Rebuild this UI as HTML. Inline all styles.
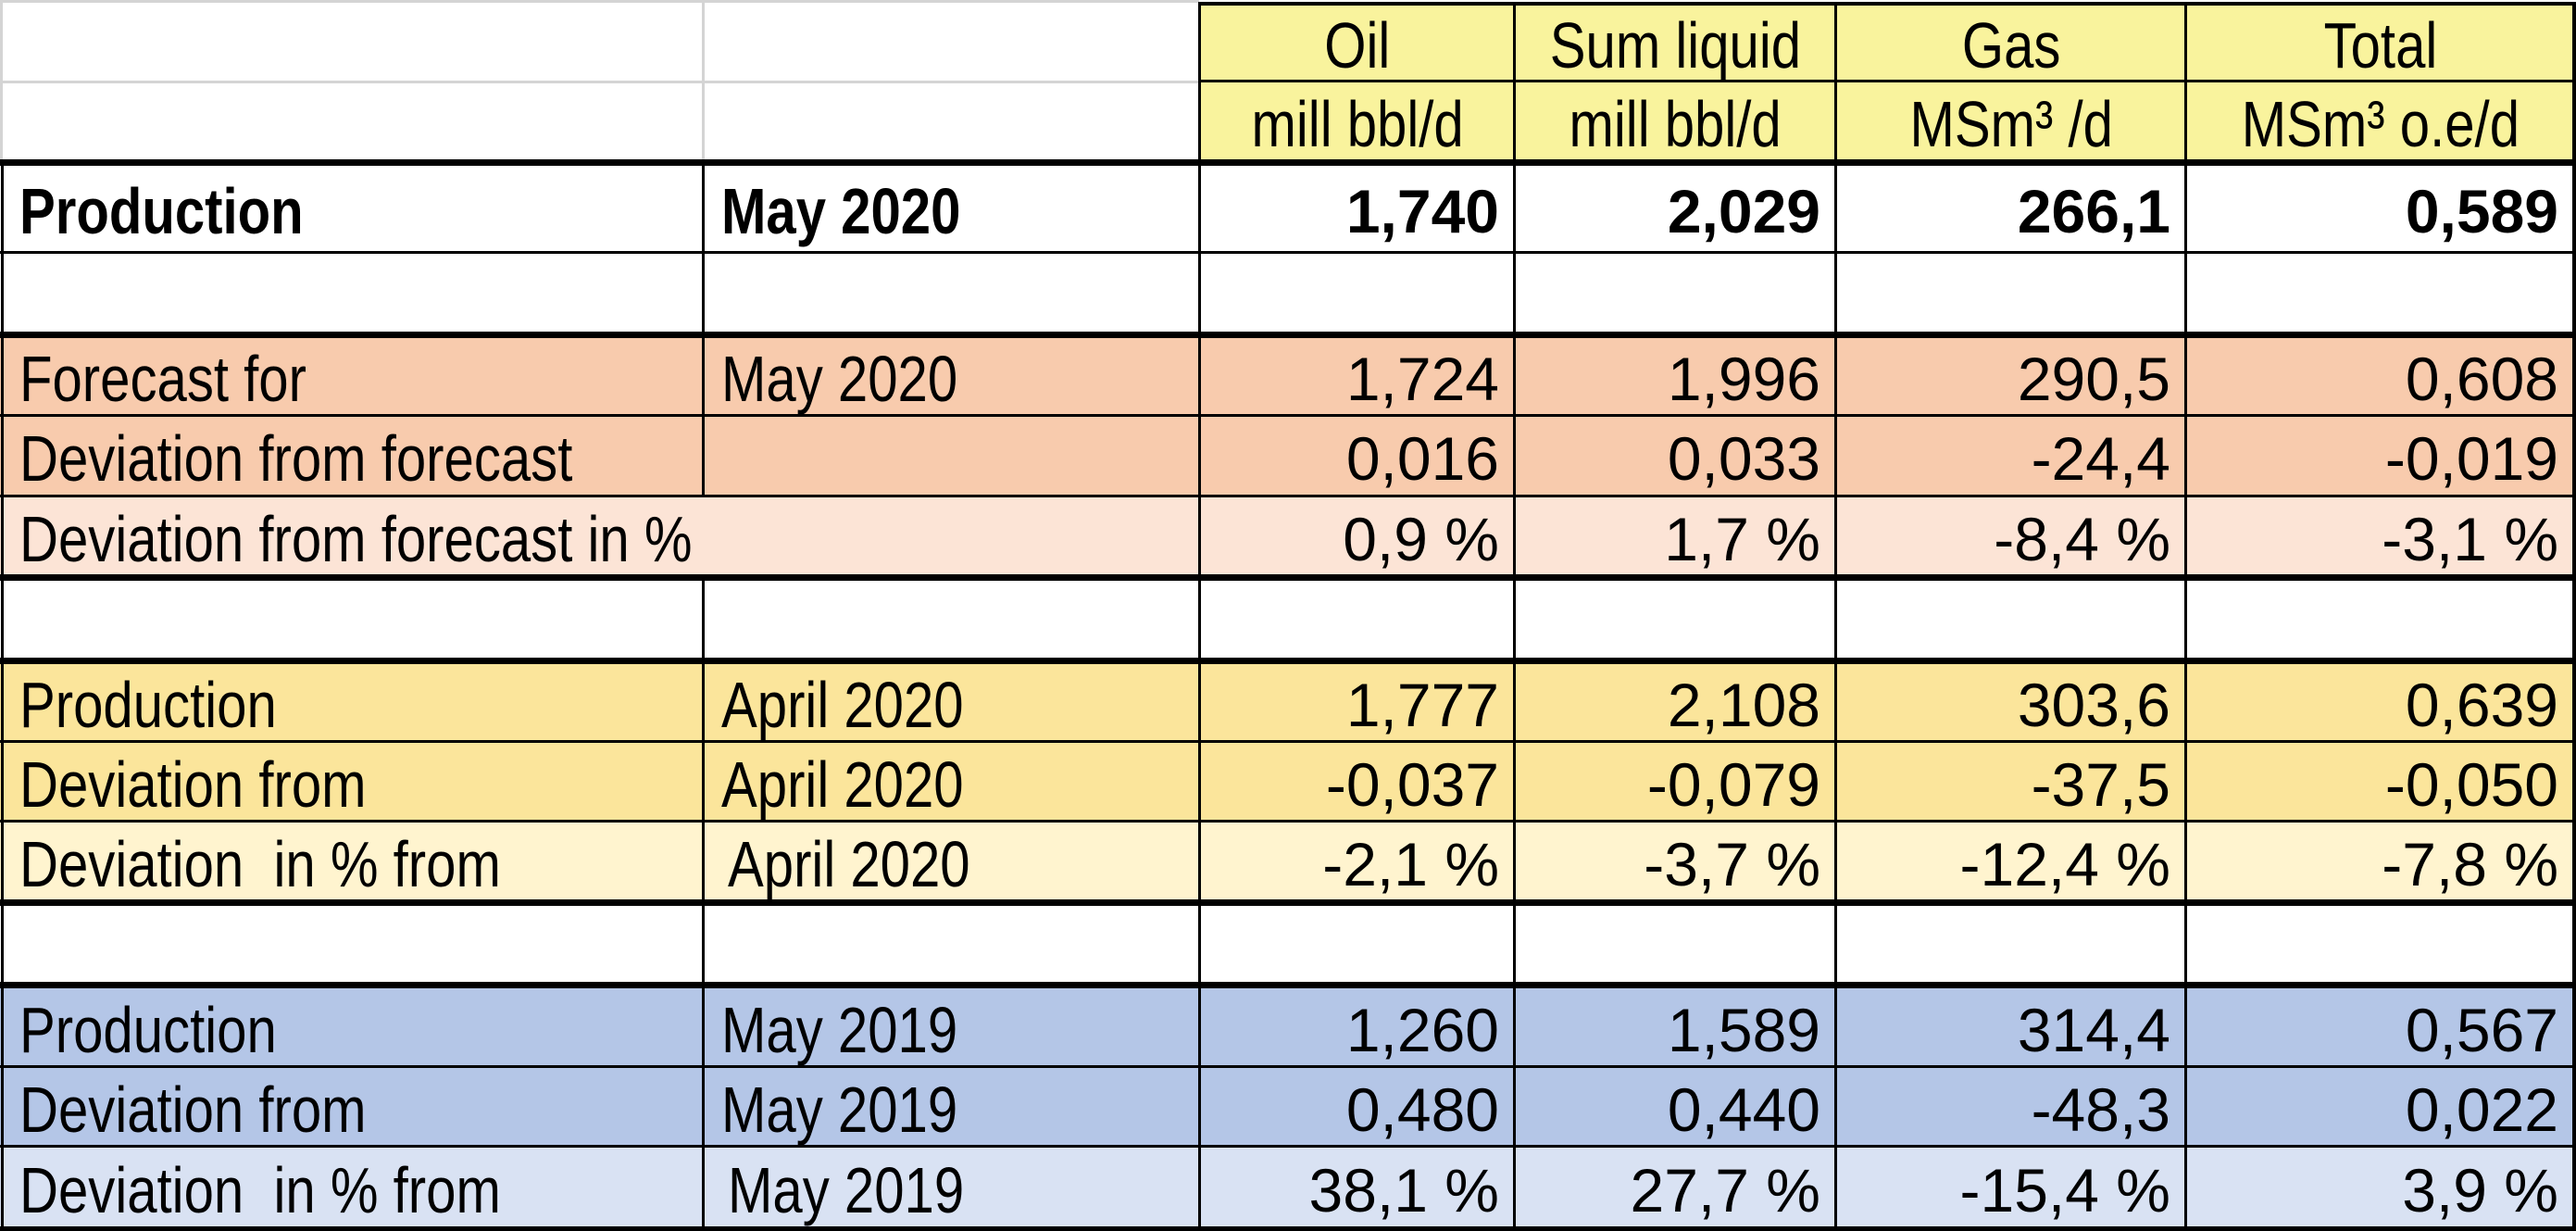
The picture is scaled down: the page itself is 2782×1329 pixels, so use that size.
<!DOCTYPE html>
<html><head><meta charset="utf-8"><style>
body{margin:0;width:2782px;height:1329px;background:#fff;position:relative;overflow:hidden;font-family:"Liberation Sans",sans-serif;color:#000}
.bg{position:absolute}
.t{position:absolute;display:flex;align-items:center;font-size:66px;white-space:nowrap;box-sizing:border-box;padding-top:6px}
.l{justify-content:flex-start;padding-left:18px}
.l span{display:inline-block;font-size:70px;transform:scaleX(.83);transform-origin:left center}
.r{justify-content:flex-end;padding-right:16px}
.cn{justify-content:center}
.cn span{display:inline-block;font-size:70px;transform:scaleX(.83);transform-origin:center}
.b{font-weight:bold}
.h{position:absolute;background:#000}
.g{position:absolute;background:#d4d4d4}
</style></head><body>
<div class="bg" style="left:1295px;top:2px;width:1486px;height:174px;background:#F9F39D"></div>
<div class="bg" style="left:0;top:361px;width:2782px;height:174px;background:#F8CBAD"></div>
<div class="bg" style="left:0;top:535px;width:2782px;height:88px;background:#FCE4D6"></div>
<div class="bg" style="left:0;top:713px;width:2782px;height:173px;background:#FBE59B"></div>
<div class="bg" style="left:0;top:886px;width:2782px;height:88px;background:#FFF4CF"></div>
<div class="bg" style="left:0;top:1063px;width:2782px;height:174px;background:#B4C6E7"></div>
<div class="bg" style="left:0;top:1237px;width:2782px;height:92px;background:#D9E2F3"></div>

<div class="g" style="left:0;top:0;width:1295px;height:3px"></div>
<div class="g" style="left:0;top:87px;width:1295px;height:3px"></div>
<div class="g" style="left:0;top:0;width:3px;height:176px"></div>
<div class="g" style="left:758px;top:0;width:3px;height:176px"></div>

<div class="h" style="left:1295px;top:2px;width:1487px;height:4px"></div>
<div class="h" style="left:1295px;top:86px;width:1487px;height:3px"></div>
<div class="h" style="left:0;top:172px;width:2782px;height:7px"></div>
<div class="h" style="left:0;top:271px;width:2782px;height:3px"></div>
<div class="h" style="left:0;top:358px;width:2782px;height:7px"></div>
<div class="h" style="left:0;top:447px;width:2782px;height:3px"></div>
<div class="h" style="left:0;top:534px;width:2782px;height:3px"></div>
<div class="h" style="left:0;top:620px;width:2782px;height:7px"></div>
<div class="h" style="left:0;top:710px;width:2782px;height:7px"></div>
<div class="h" style="left:0;top:799px;width:2782px;height:3px"></div>
<div class="h" style="left:0;top:885px;width:2782px;height:3px"></div>
<div class="h" style="left:0;top:971px;width:2782px;height:7px"></div>
<div class="h" style="left:0;top:1060px;width:2782px;height:7px"></div>
<div class="h" style="left:0;top:1150px;width:2782px;height:3px"></div>
<div class="h" style="left:0;top:1236px;width:2782px;height:3px"></div>
<div class="h" style="left:0;top:1324px;width:2782px;height:5px"></div>

<div class="h" style="left:1px;top:172px;width:3px;height:1157px"></div>
<div class="h" style="left:758px;top:172px;width:3px;height:363px"></div>
<div class="h" style="left:758px;top:620px;width:3px;height:709px"></div>
<div class="h" style="left:1294px;top:2px;width:3px;height:1327px"></div>
<div class="h" style="left:1634px;top:2px;width:3px;height:1327px"></div>
<div class="h" style="left:1981px;top:2px;width:3px;height:1327px"></div>
<div class="h" style="left:2359px;top:2px;width:3px;height:1327px"></div>
<div class="h" style="left:2778px;top:2px;width:4px;height:1327px"></div>

<div class="t cn" style="left:1297px;top:4px;width:338px;height:84px"><span>Oil</span></div>
<div class="t cn" style="left:1637px;top:4px;width:345px;height:84px"><span>Sum liquid</span></div>
<div class="t cn" style="left:1984px;top:4px;width:376px;height:84px"><span>Gas</span></div>
<div class="t cn" style="left:2362px;top:4px;width:417px;height:84px"><span>Total</span></div>
<div class="t cn" style="left:1297px;top:89px;width:338px;height:84px"><span>mill bbl/d</span></div>
<div class="t cn" style="left:1637px;top:89px;width:345px;height:84px"><span>mill bbl/d</span></div>
<div class="t cn" style="left:1984px;top:89px;width:376px;height:84px"><span>MSm³ /d</span></div>
<div class="t cn" style="left:2362px;top:89px;width:417px;height:84px"><span>MSm³ o.e/d</span></div>

<div class="t l b" style="left:3px;top:179px;width:755px;height:92px"><span>Production</span></div>
<div class="t l b" style="left:761px;top:179px;width:533px;height:92px"><span>May 2020</span></div>
<div class="t r b" style="left:1297px;top:179px;width:338px;height:92px">1,740</div>
<div class="t r b" style="left:1637px;top:179px;width:345px;height:92px">2,029</div>
<div class="t r b" style="left:1984px;top:179px;width:376px;height:92px">266,1</div>
<div class="t r b" style="left:2362px;top:179px;width:417px;height:92px">0,589</div>

<div class="t l" style="left:3px;top:365px;width:755px;height:82px"><span>Forecast for</span></div>
<div class="t l" style="left:761px;top:365px;width:533px;height:82px"><span>May 2020</span></div>
<div class="t r" style="left:1297px;top:365px;width:338px;height:82px">1,724</div>
<div class="t r" style="left:1637px;top:365px;width:345px;height:82px">1,996</div>
<div class="t r" style="left:1984px;top:365px;width:376px;height:82px">290,5</div>
<div class="t r" style="left:2362px;top:365px;width:417px;height:82px">0,608</div>

<div class="t l" style="left:3px;top:450px;width:755px;height:84px"><span>Deviation from forecast</span></div>
<div class="t r" style="left:1297px;top:450px;width:338px;height:84px">0,016</div>
<div class="t r" style="left:1637px;top:450px;width:345px;height:84px">0,033</div>
<div class="t r" style="left:1984px;top:450px;width:376px;height:84px">-24,4</div>
<div class="t r" style="left:2362px;top:450px;width:417px;height:84px">-0,019</div>

<div class="t l" style="left:3px;top:537px;width:1290px;height:83px"><span>Deviation from forecast in %</span></div>
<div class="t r" style="left:1297px;top:537px;width:338px;height:83px">0,9 %</div>
<div class="t r" style="left:1637px;top:537px;width:345px;height:83px">1,7 %</div>
<div class="t r" style="left:1984px;top:537px;width:376px;height:83px">-8,4 %</div>
<div class="t r" style="left:2362px;top:537px;width:417px;height:83px">-3,1 %</div>

<div class="t l" style="left:3px;top:717px;width:755px;height:82px"><span>Production</span></div>
<div class="t l" style="left:761px;top:717px;width:533px;height:82px"><span>April 2020</span></div>
<div class="t r" style="left:1297px;top:717px;width:338px;height:82px">1,777</div>
<div class="t r" style="left:1637px;top:717px;width:345px;height:82px">2,108</div>
<div class="t r" style="left:1984px;top:717px;width:376px;height:82px">303,6</div>
<div class="t r" style="left:2362px;top:717px;width:417px;height:82px">0,639</div>

<div class="t l" style="left:3px;top:802px;width:755px;height:83px"><span>Deviation from</span></div>
<div class="t l" style="left:761px;top:802px;width:533px;height:83px"><span>April 2020</span></div>
<div class="t r" style="left:1297px;top:802px;width:338px;height:83px">-0,037</div>
<div class="t r" style="left:1637px;top:802px;width:345px;height:83px">-0,079</div>
<div class="t r" style="left:1984px;top:802px;width:376px;height:83px">-37,5</div>
<div class="t r" style="left:2362px;top:802px;width:417px;height:83px">-0,050</div>

<div class="t l" style="left:3px;top:888px;width:755px;height:83px"><span>Deviation&nbsp; in % from</span></div>
<div class="t l" style="left:768px;top:888px;width:526px;height:83px"><span>April 2020</span></div>
<div class="t r" style="left:1297px;top:888px;width:338px;height:83px">-2,1 %</div>
<div class="t r" style="left:1637px;top:888px;width:345px;height:83px">-3,7 %</div>
<div class="t r" style="left:1984px;top:888px;width:376px;height:83px">-12,4 %</div>
<div class="t r" style="left:2362px;top:888px;width:417px;height:83px">-7,8 %</div>

<div class="t l" style="left:3px;top:1067px;width:755px;height:83px"><span>Production</span></div>
<div class="t l" style="left:761px;top:1067px;width:533px;height:83px"><span>May 2019</span></div>
<div class="t r" style="left:1297px;top:1067px;width:338px;height:83px">1,260</div>
<div class="t r" style="left:1637px;top:1067px;width:345px;height:83px">1,589</div>
<div class="t r" style="left:1984px;top:1067px;width:376px;height:83px">314,4</div>
<div class="t r" style="left:2362px;top:1067px;width:417px;height:83px">0,567</div>

<div class="t l" style="left:3px;top:1153px;width:755px;height:83px"><span>Deviation from</span></div>
<div class="t l" style="left:761px;top:1153px;width:533px;height:83px"><span>May 2019</span></div>
<div class="t r" style="left:1297px;top:1153px;width:338px;height:83px">0,480</div>
<div class="t r" style="left:1637px;top:1153px;width:345px;height:83px">0,440</div>
<div class="t r" style="left:1984px;top:1153px;width:376px;height:83px">-48,3</div>
<div class="t r" style="left:2362px;top:1153px;width:417px;height:83px">0,022</div>

<div class="t l" style="left:3px;top:1239px;width:755px;height:85px"><span>Deviation&nbsp; in % from</span></div>
<div class="t l" style="left:768px;top:1239px;width:526px;height:85px"><span>May 2019</span></div>
<div class="t r" style="left:1297px;top:1239px;width:338px;height:85px">38,1 %</div>
<div class="t r" style="left:1637px;top:1239px;width:345px;height:85px">27,7 %</div>
<div class="t r" style="left:1984px;top:1239px;width:376px;height:85px">-15,4 %</div>
<div class="t r" style="left:2362px;top:1239px;width:417px;height:85px">3,9 %</div>
</body></html>
